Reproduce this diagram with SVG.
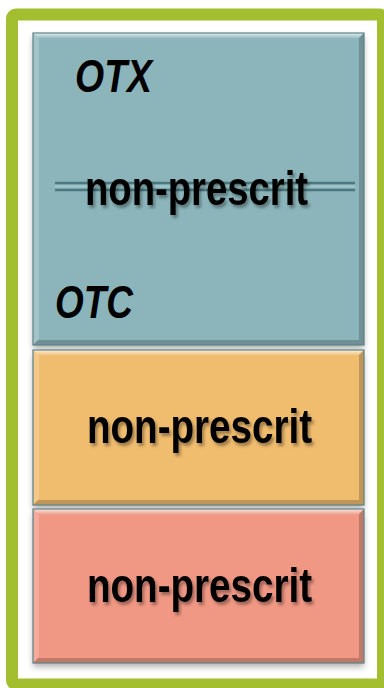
<svg xmlns="http://www.w3.org/2000/svg" width="384" height="688" viewBox="0 0 384 688">
  <defs>
    <style>
      .label { font-family: "Liberation Sans", Arial, sans-serif; font-weight: bold; font-size: 48px; fill: #000; }
      .tag { font-family: "Liberation Sans", Arial, sans-serif; font-weight: bold; font-style: italic; font-size: 46px; fill: #000; }
      .edge { fill: none; stroke: #5d8286; stroke-width: 1.2; }
      .hi { fill: #ffffff; opacity: 0.2; }
      .lo { fill: #000000; opacity: 0.2; }
      .glow { fill: url(#topGlow); }
    </style>
    <filter id="txtShadow" x="-10%" y="-30%" width="120%" height="170%">
      <feDropShadow dx="2" dy="3" stdDeviation="1.6" flood-color="#000" flood-opacity="0.35"/>
    </filter>
    <filter id="boxShadow" x="-10%" y="-10%" width="120%" height="130%">
      <feDropShadow dx="0" dy="4" stdDeviation="3" flood-color="#000" flood-opacity="0.3"/>
    </filter>
    <linearGradient id="topGlow" x1="0" y1="0" x2="0" y2="1">
      <stop offset="0" stop-color="#ffffff" stop-opacity="0.75"/>
      <stop offset="1" stop-color="#ffffff" stop-opacity="0"/>
    </linearGradient>
  </defs>

  <!-- white page with green frame -->
  <rect x="0" y="0" width="384" height="688" fill="#ffffff"/>
  <rect id="frame" x="12" y="14.5" width="371" height="670" rx="4" fill="none" stroke="#a3be2f" stroke-width="12"/>

  <!-- teal block: OTX / non-prescrit / OTC -->
  <g id="otx-block">
    <rect x="33" y="33" width="331" height="312" fill="#8bb5ba" filter="url(#boxShadow)"/>
    <polygon class="glow" points="33,33 364,33 358,39 39,39"/>
    <polygon class="hi" points="33,33 39,39 39,339 33,345"/>
    <polygon class="lo" points="364,33 364,345 359,340 359,38"/>
    <polygon class="lo" points="33,345 364,345 359,340 38,340"/>
    <rect class="edge" x="33" y="33" width="331" height="312"/>
    <line x1="55" y1="183" x2="355" y2="183" stroke="#4a787e" stroke-width="2.5"/>
    <line x1="55" y1="190" x2="355" y2="190" stroke="#4a787e" stroke-width="2.5"/>
    <line x1="55" y1="186.5" x2="355" y2="186.5" stroke="#b3d6da" stroke-width="2" opacity="0.6"/>
    <text class="tag" x="75" y="92" textLength="77" lengthAdjust="spacingAndGlyphs">OTX</text>
    <text class="label" x="85" y="205" textLength="223" lengthAdjust="spacingAndGlyphs" filter="url(#txtShadow)">non-prescrit</text>
    <text class="tag" x="55" y="318" textLength="78" lengthAdjust="spacingAndGlyphs">OTC</text>
  </g>

  <!-- orange block -->
  <g id="orange-block">
    <rect x="33" y="350" width="331" height="155" fill="#f0bc6e" filter="url(#boxShadow)"/>
    <polygon class="glow" points="33,350 364,350 358,356 39,356"/>
    <polygon class="hi" points="33,350 39,356 39,499 33,505"/>
    <polygon class="lo" points="364,350 364,505 359,500 359,355"/>
    <polygon class="lo" points="33,505 364,505 359,500 38,500"/>
    <rect class="edge" x="33" y="350" width="331" height="155"/>
    <text class="label" x="87" y="443" textLength="225" lengthAdjust="spacingAndGlyphs" filter="url(#txtShadow)">non-prescrit</text>
  </g>

  <!-- red block -->
  <g id="red-block">
    <rect x="33" y="509" width="331" height="154" fill="#f09884" filter="url(#boxShadow)"/>
    <polygon class="glow" points="33,509 364,509 358,515 39,515"/>
    <polygon class="hi" points="33,509 39,515 39,657 33,663"/>
    <polygon class="lo" points="364,509 364,663 359,658 359,514"/>
    <polygon class="lo" points="33,663 364,663 359,658 38,658"/>
    <rect class="edge" x="33" y="509" width="331" height="154"/>
    <text class="label" x="87" y="602" textLength="225" lengthAdjust="spacingAndGlyphs" filter="url(#txtShadow)">non-prescrit</text>
  </g>
</svg>
